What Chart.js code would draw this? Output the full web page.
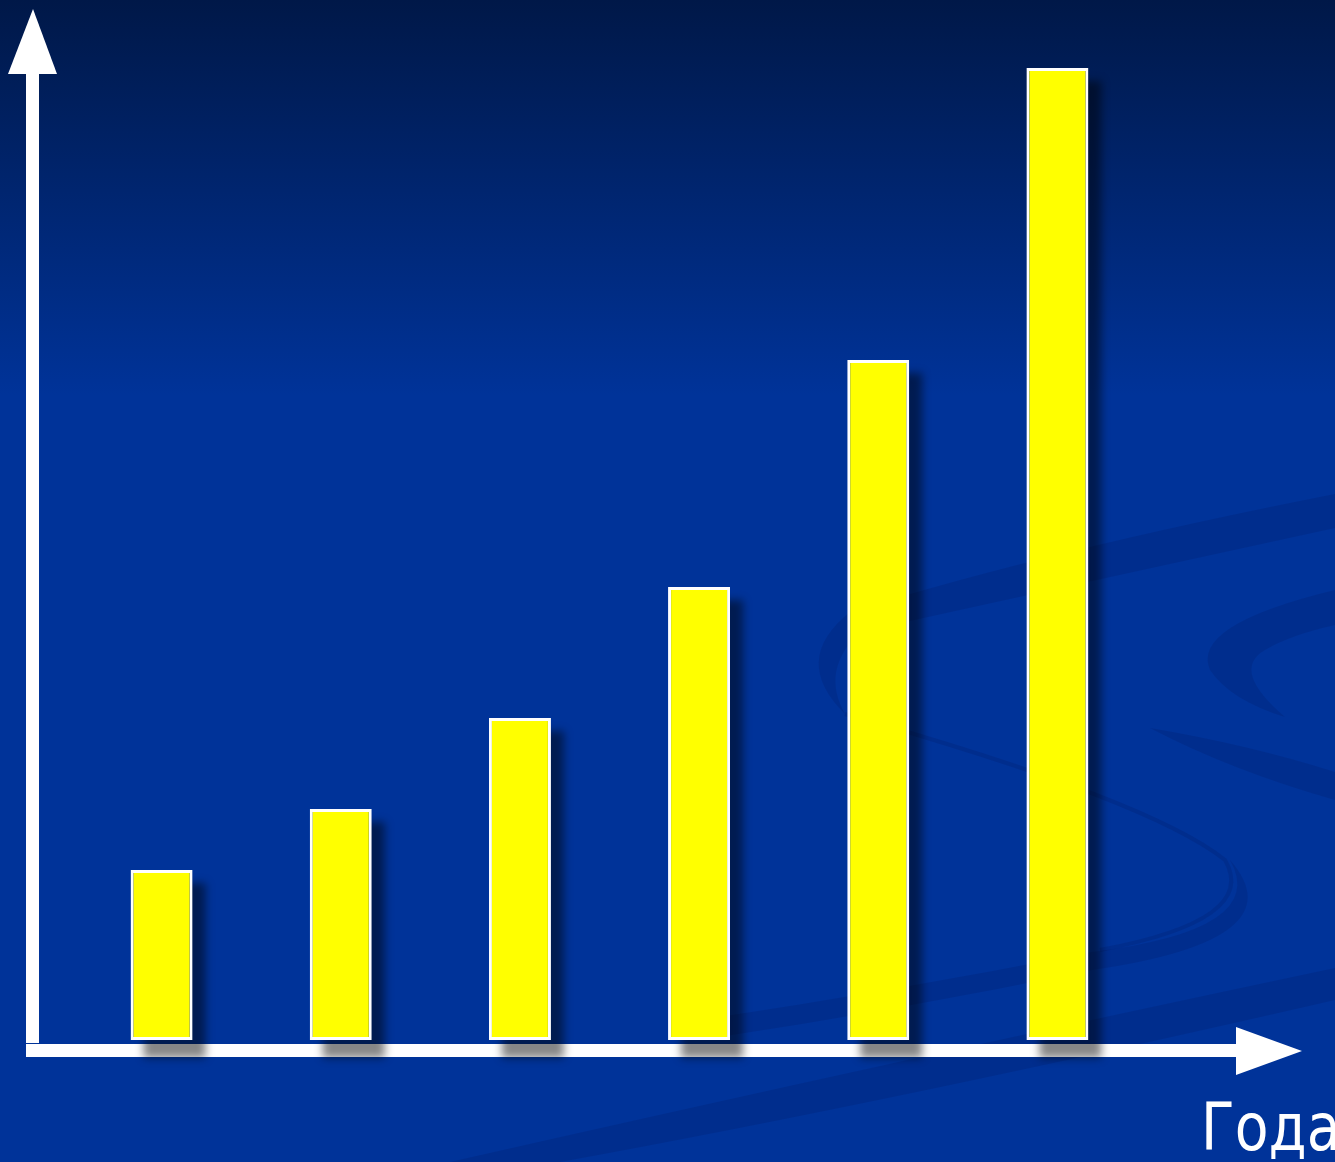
<!DOCTYPE html>
<html>
<head>
<meta charset="utf-8">
<script src="https://cdn.jsdelivr.net/npm/chart.js@4.4.1/dist/chart.umd.min.js"></script>
<style>
  html, body { margin: 0; padding: 0; overflow: hidden; background: #003399; }
  #wrap { position: relative; width: 1335px; height: 1162px; overflow: hidden; }
  #axisLabel {
    position: absolute; left: 1201px; top: 1095px;
    color: #fff; font: 65px 'DejaVu Sans', Verdana, sans-serif;
    line-height: 1; white-space: nowrap;
    transform: scaleX(0.85); transform-origin: left top;
  }
</style>
</head>
<body>
<div id="wrap">
  <canvas id="chart"></canvas>
  <div id="axisLabel">Года</div>
</div>
<script>
// data (no tick labels shown, units are relative)
const years = ['1', '2', '3', '4', '5', '6'];
const values = [17, 23.1, 32.2, 45.3, 68, 97.2];
const yMax = 104;

// gradient sky + faint swirl in the lower right
const backgroundPlugin = {
    id: 'slideBackground',
    beforeDraw(chart) {
        const { ctx, width, height } = chart;
        ctx.save();
        const g = ctx.createLinearGradient(0, 0, 0, height);
        g.addColorStop(0, '#001848');
        g.addColorStop(0.34, '#003399');
        g.addColorStop(1, '#003399');
        ctx.fillStyle = g;
        ctx.fillRect(0, 0, width, height);

        ctx.fillStyle = 'rgba(0, 20, 80, 0.16)';
        ctx.strokeStyle = 'rgba(0, 20, 80, 0.16)';
        // upper band with left loop
        ctx.beginPath();
        ctx.moveTo(1335, 494);
        ctx.quadraticCurveTo(1050, 550, 850, 612);
        ctx.quadraticCurveTo(790, 660, 845, 714);
        ctx.quadraticCurveTo(820, 670, 860, 632);
        ctx.quadraticCurveTo(1050, 590, 1335, 528);
        ctx.closePath();
        ctx.fill();
        // thin line sweeping to the right and back
        ctx.lineWidth = 4;
        ctx.beginPath();
        ctx.moveTo(845, 714);
        ctx.quadraticCurveTo(1150, 800, 1225, 860);
        ctx.quadraticCurveTo(1260, 920, 1100, 950);
        ctx.stroke();
        // lower band
        ctx.beginPath();
        ctx.moveTo(1230, 860);
        ctx.quadraticCurveTo(1270, 930, 1092, 952);
        ctx.quadraticCurveTo(900, 990, 700, 1020);
        ctx.lineTo(700, 1040);
        ctx.quadraticCurveTo(900, 1010, 1092, 970);
        ctx.quadraticCurveTo(1300, 940, 1230, 860);
        ctx.fill();
        // right crescent
        ctx.beginPath();
        ctx.moveTo(1335, 590);
        ctx.quadraticCurveTo(1190, 625, 1210, 670);
        ctx.quadraticCurveTo(1230, 700, 1285, 717);
        ctx.quadraticCurveTo(1230, 670, 1265, 650);
        ctx.quadraticCurveTo(1290, 635, 1335, 625);
        ctx.closePath();
        ctx.fill();
        // faint band
        ctx.beginPath();
        ctx.moveTo(1150, 728);
        ctx.quadraticCurveTo(1250, 745, 1335, 772);
        ctx.lineTo(1335, 800);
        ctx.quadraticCurveTo(1230, 770, 1150, 728);
        ctx.fill();
        // bottom bands
        ctx.beginPath();
        ctx.moveTo(450, 1162);
        ctx.quadraticCurveTo(900, 1060, 1335, 968);
        ctx.lineTo(1335, 1000);
        ctx.quadraticCurveTo(900, 1100, 560, 1162);
        ctx.closePath();
        ctx.fill();
        ctx.restore();
    }
};

// white arrow axes and the soft bar shadows
const axesPlugin = {
    id: 'arrowAxes',
    beforeDatasetsDraw(chart) {
        const ctx = chart.ctx;
        ctx.save();
        ctx.fillStyle = '#ffffff';
        ctx.fillRect(26, 70, 13, 973);
        ctx.beginPath();
        ctx.moveTo(8, 74); ctx.lineTo(57, 74); ctx.lineTo(33, 9);
        ctx.closePath(); ctx.fill();
        ctx.fillRect(26, 1044, 1214, 13);
        ctx.beginPath();
        ctx.moveTo(1236, 1027); ctx.lineTo(1236, 1075); ctx.lineTo(1302, 1051);
        ctx.closePath(); ctx.fill();

        ctx.filter = 'blur(4px)';
        ctx.fillStyle = 'rgba(0, 0, 0, 0.47)';
        chart.getDatasetMeta(0).data.forEach(bar => {
            const { x, y, width, base } = bar.getProps(['x', 'y', 'width', 'base'], true);
            ctx.fillRect(x - width / 2 + 13, y + 13, width, base - y + 5);
        });
        ctx.restore();
    }
};

new Chart(document.getElementById('chart'), {
    type: 'bar',
    data: {
        labels: years,
        datasets: [{
            data: values,
            backgroundColor: '#ffff00',
            borderColor: '#ffffff',
            borderWidth: 3,
            borderSkipped: false,
            categoryPercentage: 1,
            barPercentage: 0.346
        }]
    },
    options: {
        responsive: true,
        maintainAspectRatio: false,
        animation: false,
        layout: { padding: { left: 72, right: 188, top: 0, bottom: 122 } },
        plugins: { legend: { display: false }, tooltip: { enabled: false } },
        scales: {
            x: { display: false },
            y: { display: false, min: 0, max: yMax }
        }
    },
    plugins: [backgroundPlugin, axesPlugin]
});
</script>
</body>
</html>
